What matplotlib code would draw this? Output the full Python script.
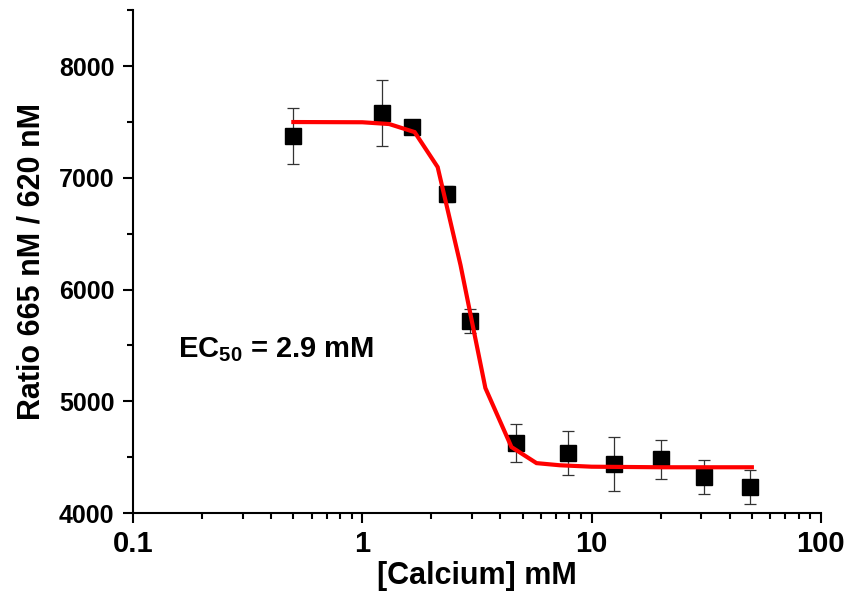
import matplotlib
matplotlib.use("Agg")
import matplotlib.pyplot as plt
from matplotlib.ticker import LogLocator, MultipleLocator, FixedLocator
import numpy as np

plt.rcParams['font.family'] = ['Liberation Sans', 'DejaVu Sans']
plt.rcParams['font.weight'] = 'bold'
plt.rcParams['mathtext.fontset'] = 'custom'
plt.rcParams['mathtext.bf'] = 'Liberation Sans:bold'
plt.rcParams['mathtext.rm'] = 'Liberation Sans:bold'

# measured points
calcium = [0.5, 1.22, 1.64, 2.33, 2.96, 4.7, 7.9, 12.5, 20.0, 31.0, 49.0]
ratio = [7374, 7580, 7454, 6855, 5718, 4626, 4537, 4438, 4483, 4322, 4233]
ratio_err = [250, 295, 50, 70, 110, 170, 200, 240, 175, 155, 155]

# fitted curve (vertices)
fit_x = [0.5, 1.0, 1.31, 1.69, 2.13, 2.68, 3.44, 4.47, 5.75, 7.25, 10, 20, 50]
fit_y = [7499, 7497, 7481, 7409, 7096, 6219, 5119, 4591, 4447, 4428, 4415, 4410, 4410]


def main():
    fig = plt.figure(figsize=(8.48, 5.98), dpi=100)
    ax = fig.add_axes([0.157, 0.142, 0.811, 0.841])

    ax.errorbar(calcium, ratio, yerr=ratio_err, fmt='none', ecolor='#333333',
                elinewidth=0.9, capsize=4.5, capthick=0.9, zorder=2)
    ax.plot(calcium, ratio, 's', color='black', markersize=11.5, zorder=3)
    ax.plot(fit_x, fit_y, '-', color='#ff0000', lw=3, zorder=4,
            solid_joinstyle='miter')

    ax.set_xscale('log')
    ax.set_xlim(0.1, 100)
    ax.set_ylim(4000, 8500)

    ax.xaxis.set_major_locator(FixedLocator([0.1, 1, 10, 100]))
    ax.xaxis.set_minor_locator(LogLocator(base=10, subs=np.arange(2, 10)))
    ax.set_xticklabels(['0.1', '1', '10', '100'])
    ax.yaxis.set_major_locator(MultipleLocator(1000))
    ax.yaxis.set_minor_locator(MultipleLocator(500))

    for s in ['top', 'right']:
        ax.spines[s].set_visible(False)
    for s in ['left', 'bottom']:
        ax.spines[s].set_linewidth(1.5)

    ax.tick_params(axis='both', which='major', direction='out', length=7.5, width=1.5)
    ax.tick_params(axis='both', which='minor', direction='out', length=4.5, width=1.5)
    ax.tick_params(axis='x', labelsize=21, pad=5)
    ax.tick_params(axis='y', labelsize=18, pad=6)

    ax.set_xlabel('[Calcium] mM', fontsize=22, fontweight='bold', labelpad=2)
    ax.set_ylabel('Ratio 665 nM / 620 nM', fontsize=22, fontweight='bold', labelpad=9)

    ax.text(0.157, 5460, r'$\mathbf{EC_{50}}$ = 2.9 mM', fontsize=21,
            fontweight='bold', va='center', ha='left')

    fig.savefig('out.png', dpi=100)


if __name__ == '__main__':
    main()
